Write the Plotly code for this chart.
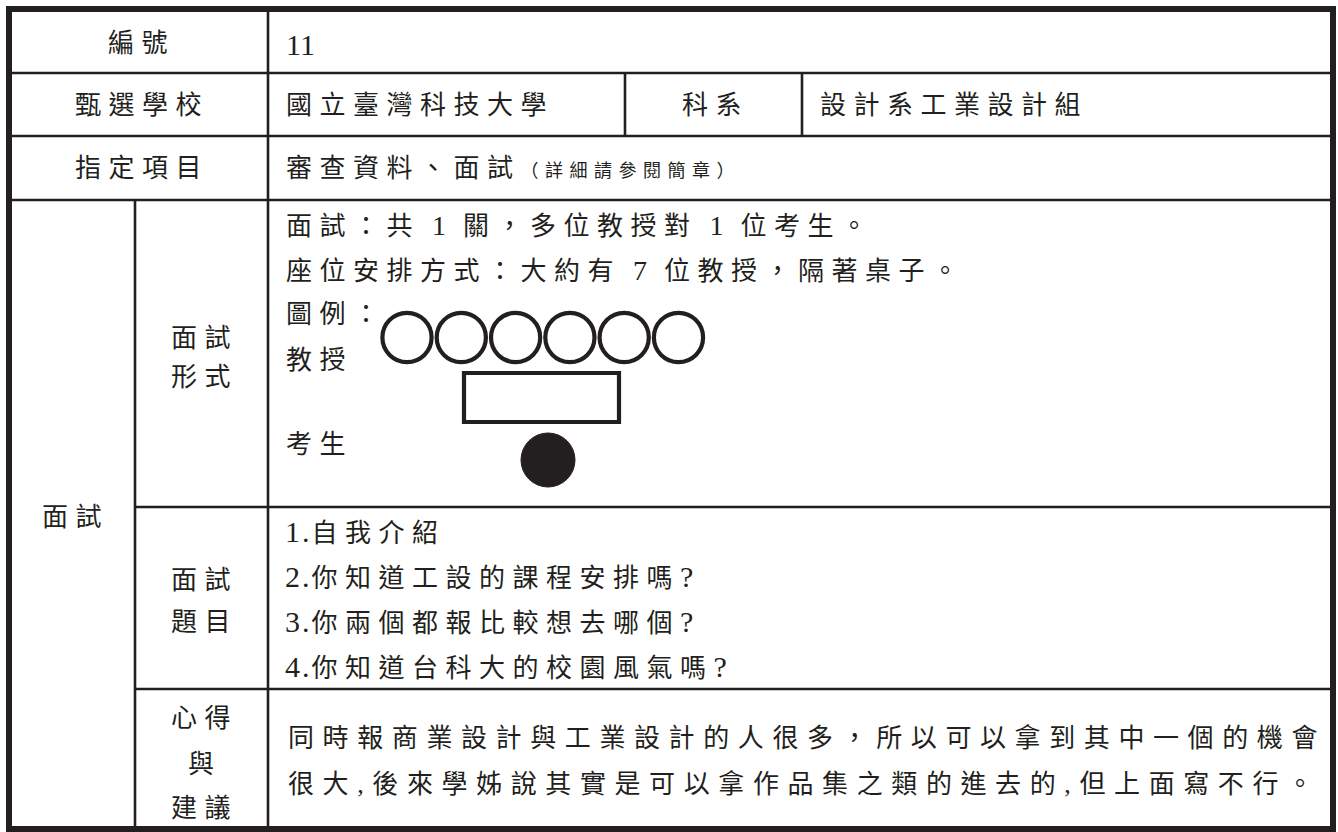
import plotly.graph_objects as go

# ---- content (text data of the form) ----
header_labels = ["編號", "甄選學校", "指定項目"]
record_number = "11"
school = "國立臺灣科技大學"
dept_label = "科系"
department = "設計系工業設計組"
required_items = "審查資料、面試"
required_note = "（詳細請參閱簡章）"
section_label = "面試"
sub_labels = [["面試", "形式"], ["面試", "題目"], ["心得", "與", "建議"]]
format_lines = ["面試：共 1 關，多位教授對 1 位考生。",
                "座位安排方式：大約有 7 位教授，隔著桌子。",
                "圖例："]
legend_labels = ["教授", "考生"]
professor_seats = 6
questions = ["1.自我介紹",
             "2.你知道工設的課程安排嗎?",
             "3.你兩個都報比較想去哪個?",
             "4.你知道台科大的校園風氣嗎?"]
reflection_lines = ["同時報商業設計與工業設計的人很多，所以可以拿到其中一個的機會",
                    "很大,後來學姊說其實是可以拿作品集之類的進去的,但上面寫不行。"]

# ---- layout constants (pixel grid) ----
W, H = 1338, 832
INK = "#231f20"
FONT = "Liberation Serif, Noto Sans CJK TC, Noto Sans CJK JP, serif"
FS = 26
LS = 7.5

L, R, T, B = 9, 1333, 9, 829
col1, col2 = 135, 268
row_y = [73, 136, 200]
sub_row_y = [507, 689]
dept_x = [625, 802]

fig = go.Figure()
shapes = []
annotations = []


def rich(s, ls_cjk=LS, ls_other=2.5, other_size=None):
    runs = []
    for ch in s:
        c = ord(ch) >= 0x2E80
        if runs and runs[-1][0] == c:
            runs[-1][1] += ch
        else:
            runs.append([c, ch])
    out = []
    for c, t in runs:
        if c:
            out.append(f'<span style="letter-spacing:{ls_cjk}px">{t}</span>')
        else:
            fs = f"font-size:{other_size}px;" if other_size else ""
            out.append(f'<span style="{fs}letter-spacing:{ls_other}px">{t}</span>')
    return "".join(out)


def line(x0, y0, x1, y1, w=2.6):
    shapes.append(dict(type="line", x0=x0, y0=y0, x1=x1, y1=y1, xref="x", yref="y",
                       line=dict(color=INK, width=w)))


def text(x, y, s, anchor="center", size=FS, ls=LS, ls_other=2.5, other_size=None):
    annotations.append(dict(x=x, y=y, xref="x", yref="y", showarrow=False,
                            xanchor=anchor, yanchor="middle",
                            text=rich(s, ls, ls_other, other_size),
                            font=dict(family=FONT, size=size, color=INK)))


# grid lines
for y in row_y:
    line(L, y, R, y)
for y in sub_row_y:
    line(col1, y, R, y)
line(col2, T, col2, B)
line(col1, row_y[2], col1, B)
for x in dept_x:
    line(x, row_y[0], x, row_y[1])

# outer border
shapes.append(dict(type="rect", x0=L, y0=T, x1=R, y1=B, xref="x", yref="y",
                   line=dict(color=INK, width=6)))

# header rows
label_cx = (L + col2) / 2 + 3
for lab, y in zip(header_labels, [43, 105, 168]):
    text(label_cx, y, lab)
text(284, 44, record_number, anchor="left", size=30, ls=0, ls_other=0)
text(284, 105, school, anchor="left")
text((dept_x[0] + dept_x[1]) / 2 + 2, 105, dept_label)
text(818, 105, department, anchor="left")
annotations.append(dict(
    x=284, y=168, xref="x", yref="y", showarrow=False, xanchor="left", yanchor="middle",
    text=(rich(required_items) +
          f'<span style="font-size:18px;letter-spacing:6.5px">{required_note}</span>'),
    font=dict(family=FONT, size=FS, color=INK)))

# section label
text((L + col1) / 2 + 3, 517, section_label)

# sub labels
sub_cx = (col1 + col2) / 2 + 3
for labs, ys in zip(sub_labels, [[338, 377], [580, 622], [718, 764, 808]]):
    for lab, y in zip(labs, ys):
        text(sub_cx, y, lab)

# interview format text
for s, y in zip(format_lines, [225, 270, 314]):
    text(284, y, s, anchor="left", ls_other=5, other_size=28)
for s, y in zip(legend_labels, [360, 444]):
    text(284, y, s, anchor="left")

# legend drawing: professors (hollow), table, candidate (filled)
seat_x0, seat_pitch, seat_r, seat_y = 381, 54.3, 24.6, 337.5
for i in range(professor_seats):
    cx = seat_x0 + 26 + i * seat_pitch
    shapes.append(dict(type="circle", xref="x", yref="y",
                       x0=cx - seat_r, x1=cx + seat_r,
                       y0=seat_y - seat_r, y1=seat_y + seat_r,
                       line=dict(color=INK, width=4.2)))
shapes.append(dict(type="rect", xref="x", yref="y", x0=464, x1=619, y0=373, y1=422,
                   line=dict(color=INK, width=4.2)))
shapes.append(dict(type="circle", xref="x", yref="y", x0=521, x1=575, y0=433, y1=487,
                   fillcolor=INK, line=dict(color=INK, width=1)))

# questions
for s, y in zip(questions, [531, 576, 621, 666]):
    text(283, y, s, anchor="left", ls_other=2, other_size=30)

# reflections
for s, y in zip(reflection_lines, [738, 784]):
    text(286, y, s, anchor="left", ls=8.6, ls_other=8.6)

fig.update_layout(
    width=W, height=H, margin=dict(l=0, r=0, t=0, b=0),
    paper_bgcolor="white", plot_bgcolor="white",
    xaxis=dict(range=[0, W], visible=False, fixedrange=True),
    yaxis=dict(range=[H, 0], visible=False, fixedrange=True),
    shapes=shapes, annotations=annotations, showlegend=False,
)
fig.write_html(
    "out.html",
    config={"displayModeBar": False, "staticPlot": True},
    post_script="document.body.style.margin='0px';document.body.style.overflow='hidden';",
)
